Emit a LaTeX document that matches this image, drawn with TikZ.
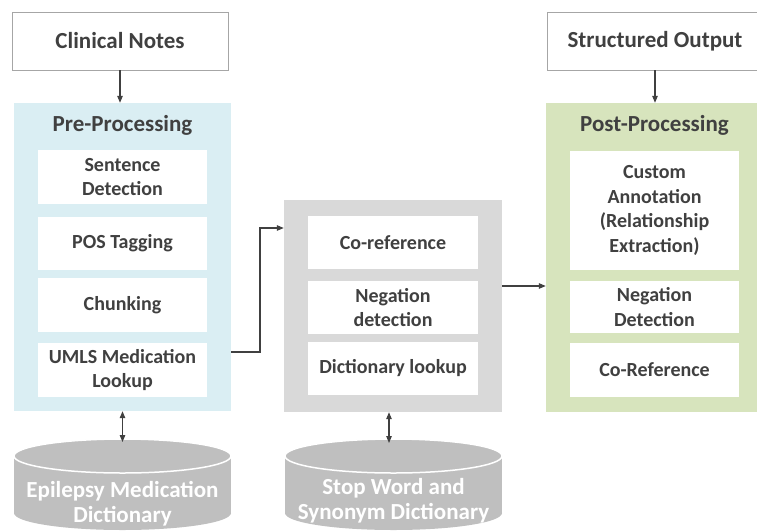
\documentclass[tikz,border=0pt]{standalone}
\usepackage{fontspec}
\setmainfont{Carlito}
\usetikzlibrary{arrows.meta}
\definecolor{txt}{HTML}{404040}
\definecolor{bordergray}{HTML}{A6A6A6}
\definecolor{prebg}{HTML}{DAEEF3}
\definecolor{midbg}{HTML}{D9D9D9}
\definecolor{postbg}{HTML}{D7E4BD}
\definecolor{cylgray}{HTML}{BFBFBF}
\tikzset{
  topbox/.style={draw=bordergray, fill=white, line width=0.9pt, minimum width=216, minimum height=58, inner sep=0pt, font=\fontsize{23}{27}\selectfont\bfseries, text=txt},
  panel/.style={minimum width=217, inner sep=0pt},
  innerbox/.style={fill=white, minimum width=169, inner sep=0pt, align=center, font=\fontsize{20}{24.5}\selectfont\bfseries, text=txt},
  paneltitle/.style={inner sep=0pt, font=\fontsize{23}{27}\selectfont\bfseries, text=txt},
  cyltext/.style={inner sep=0pt, align=center, font=\fontsize{23}{25}\selectfont\bfseries, text=white},
  arr/.style={-{Triangle[length=7pt,width=5.5pt]}, draw=txt, line width=1.1pt},
  darr/.style={{Triangle[length=7pt,width=5.5pt]}-{Triangle[length=7pt,width=5.5pt]}, draw=txt, line width=1.1pt},
  cylfill/.style={fill=cylgray},
  cylrim/.style={draw=white, line width=1.5pt, fill=cylgray}
}
\begin{document}
\begin{tikzpicture}[x=1pt,y=-1pt]
\useasboundingbox (0,0) rectangle (757,531);

% top boxes
\node[topbox] (clinical) at (120,41) {Clinical Notes};
\node[topbox] (structured) at (655,41) {Structured Output};

% panels
\node[panel, fill=prebg, minimum height=308] (pre) at (122.5,257) {};
\node[panel, fill=midbg, minimum width=218, minimum height=212] (mid) at (393,306) {};
\node[panel, fill=postbg, minimum height=309] (post) at (654.5,257.5) {};

% panel titles
\node[paneltitle] (pretitle) at (122.5,125) {Pre-Processing};
\node[paneltitle] (posttitle) at (654.5,125) {Post-Processing};

% pre-processing boxes
\node[innerbox, minimum height=54] (sent) at (122.5,177) {Sentence\\Detection};
\node[innerbox, minimum height=53] (pos) at (122.5,243.5) {POS Tagging};
\node[innerbox, minimum height=54] (chunk) at (122.5,305) {Chunking};
\node[innerbox, minimum height=54] (umls) at (122.5,370) {UMLS Medication\\Lookup};

% middle boxes
\node[innerbox, minimum width=170, minimum height=53] (coref) at (393,242.5) {Co-reference};
\node[innerbox, minimum width=170, minimum height=53] (neg) at (393,307.5) {Negation\\detection};
\node[innerbox, minimum width=170, minimum height=53] (dict) at (393,368.5) {Dictionary lookup};

% post-processing boxes
\node[innerbox, minimum height=119] (custom) at (654.5,210.5) {Custom\\Annotation\\(Relationship\\Extraction)};
\node[innerbox, minimum height=52] (negdet) at (654.5,307) {Negation\\Detection};
\node[innerbox, minimum height=54] (corefB) at (654.5,370) {Co-Reference};

% cylinders
\fill[cylfill] (122.5,513) ellipse [x radius=108.5, y radius=17];
\fill[cylfill] (14,456) rectangle (231,513);
\draw[cylrim] (122.5,456) ellipse [x radius=108.5, y radius=17];
\node[cyltext] (epi) at (122.5,504) {Epilepsy Medication\\Dictionary};
\coordinate (epitop) at (122.5,442);

\fill[cylfill] (393.5,513) ellipse [x radius=108.5, y radius=17];
\fill[cylfill] (285,456) rectangle (502,513);
\draw[cylrim] (393.5,456) ellipse [x radius=108.5, y radius=17];
\node[cyltext] (stop) at (393.5,501) {Stop Word and\\Synonym Dictionary};
\coordinate (stoptop) at (389,443);

% connectors
\draw[arr] (clinical.south) -- (clinical.south |- pre.north);
\draw[arr] (structured.south) -- (structured.south |- post.north);
\coordinate (j1) at (260,352);
\coordinate (j2) at (260,228);
\draw[arr] (pre.east |- j1) -- (j1) -- (j2) -- (mid.west |- j2);
\coordinate (j3) at (520,286);
\draw[arr] (mid.east |- j3) -- (post.west |- j3);
\draw[darr] (epitop |- pre.south) -- (epitop);
\draw[darr] (stoptop |- mid.south) -- (stoptop);
\end{tikzpicture}
\end{document}
